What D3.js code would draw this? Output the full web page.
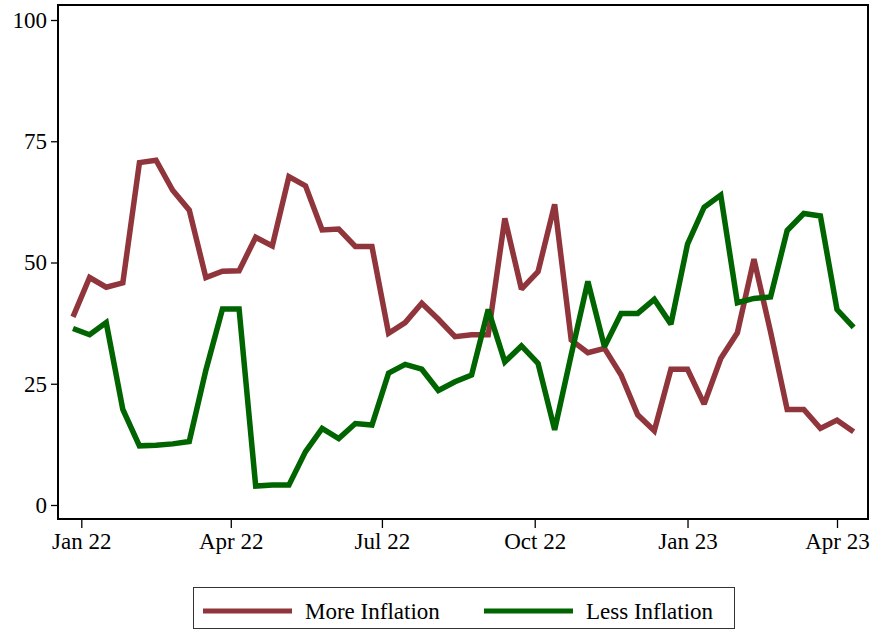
<!DOCTYPE html>
<html>
<head>
<meta charset="utf-8">
<script src="https://cdn.jsdelivr.net/npm/d3@7"></script>
<style>
  body { margin: 0; background: #fff; }
  svg { display: block; font-family: "Liberation Serif", "Times New Roman", serif; }
</style>
</head>
<body>
<svg id="chart" width="870" height="630"></svg>
<script>
// dates every ~10 days
const dates = [
  "2021-12-27", "2022-01-06", "2022-01-16", "2022-01-26", "2022-02-05", "2022-02-15",
  "2022-02-25", "2022-03-07", "2022-03-17", "2022-03-27", "2022-04-06", "2022-04-16",
  "2022-04-26", "2022-05-06", "2022-05-16", "2022-05-26", "2022-06-05", "2022-06-15",
  "2022-06-25", "2022-07-05", "2022-07-15", "2022-07-25", "2022-08-04", "2022-08-14",
  "2022-08-24", "2022-09-03", "2022-09-13", "2022-09-23", "2022-10-03", "2022-10-13",
  "2022-10-23", "2022-11-02", "2022-11-12", "2022-11-22", "2022-12-02", "2022-12-12",
  "2022-12-22", "2023-01-01", "2023-01-11", "2023-01-21", "2023-01-31", "2023-02-10",
  "2023-02-20", "2023-03-02", "2023-03-12", "2023-03-22", "2023-04-01", "2023-04-11"
];
const moreInflation = [
  38.8, 46.9, 44.9, 45.8, 70.6, 71.1, 64.9, 60.8, 46.9, 48.2,
  48.3, 55.2, 53.4, 67.7, 65.8, 56.7, 56.9, 53.3, 53.3, 35.4,
  37.6, 41.6, 38.3, 34.7, 35.1, 35.1, 59.1, 44.5, 48.1, 62.0,
  34.0, 31.4, 32.3, 26.8, 18.6, 15.3, 28.0, 28.0, 20.8, 30.2,
  35.5, 50.7, 35.7, 19.7, 19.7, 15.8, 17.5, 15.1
];
const lessInflation = [
  36.4, 35.1, 37.6, 19.7, 12.2, 12.3, 12.6, 13.1, 27.8, 40.4,
  40.4, 3.9, 4.1, 4.1, 11.0, 15.8, 13.7, 16.8, 16.5, 27.2,
  29.0, 28.0, 23.6, 25.4, 26.8, 40.3, 29.5, 32.8, 29.2, 15.5,
  31.0, 46.1, 32.6, 39.5, 39.5, 42.4, 37.3, 53.8, 61.4, 63.9,
  41.7, 42.6, 42.9, 56.6, 60.1, 59.6, 40.3, 36.6
];
const seriesNames = ["More Inflation", "Less Inflation"];
const seriesColors = ["#90353b", "#006400"];
const yTicks = [0, 25, 50, 75, 100];
const xTicks = ["2022-01-01", "2022-04-01", "2022-07-01", "2022-10-01", "2023-01-01", "2023-04-01"];

const parse = d3.utcParse("%Y-%m-%d");
const fmt = d3.utcFormat("%b %y");

const svg = d3.select("#chart");
const frame = { left: 58, right: 868, top: 5, bottom: 519 };

const x = d3.scaleUtc()
  .domain([parse("2022-01-01"), parse("2023-04-01")])
  .range([81.3, 837]);
const y = d3.scaleLinear().domain([0, 100]).range([505, 20]);

// plot frame
svg.append("rect")
  .attr("x", frame.left).attr("y", frame.top)
  .attr("width", frame.right - frame.left).attr("height", frame.bottom - frame.top)
  .attr("fill", "none").attr("stroke", "#000").attr("stroke-width", 2);

// y axis
const yAxis = svg.append("g")
  .attr("transform", `translate(${frame.left},0)`)
  .call(d3.axisLeft(y).tickValues(yTicks).tickSize(7).tickPadding(4));
yAxis.select(".domain").remove();
yAxis.selectAll("line").attr("stroke", "#000").attr("stroke-width", 1.3);
yAxis.selectAll("text").attr("font-size", 23).attr("font-family", "Liberation Serif").attr("fill", "#000");

// x axis
const xAxis = svg.append("g")
  .attr("transform", `translate(0,${frame.bottom})`)
  .call(d3.axisBottom(x).tickValues(xTicks.map(parse)).tickFormat(fmt).tickSize(9).tickPadding(5));
xAxis.select(".domain").remove();
xAxis.selectAll("line").attr("stroke", "#000").attr("stroke-width", 1.3);
xAxis.selectAll("text").attr("font-size", 23).attr("font-family", "Liberation Serif").attr("fill", "#000");

// lines
const line = d3.line()
  .x((d, i) => x(parse(dates[i])))
  .y(d => y(d));

[moreInflation, lessInflation].forEach((vals, k) => {
  svg.append("path")
    .datum(vals)
    .attr("d", line)
    .attr("fill", "none")
    .attr("stroke", seriesColors[k])
    .attr("stroke-width", 5.5)
    .attr("stroke-linejoin", "miter")
    .attr("stroke-miterlimit", 2);
});

// legend
const legend = svg.append("g");
legend.append("rect")
  .attr("x", 193.5).attr("y", 587.5).attr("width", 541).attr("height", 41)
  .attr("fill", "#fff").attr("stroke", "#333").attr("stroke-width", 1);
const legX = [203, 484];
seriesNames.forEach((name, k) => {
  legend.append("line")
    .attr("x1", legX[k]).attr("x2", legX[k] + 89)
    .attr("y1", 611).attr("y2", 611)
    .attr("stroke", seriesColors[k]).attr("stroke-width", 5);
  legend.append("text")
    .attr("x", legX[k] + 102).attr("y", 619)
    .attr("font-size", 23).attr("fill", "#000")
    .text(name);
});
</script>
</body>
</html>
